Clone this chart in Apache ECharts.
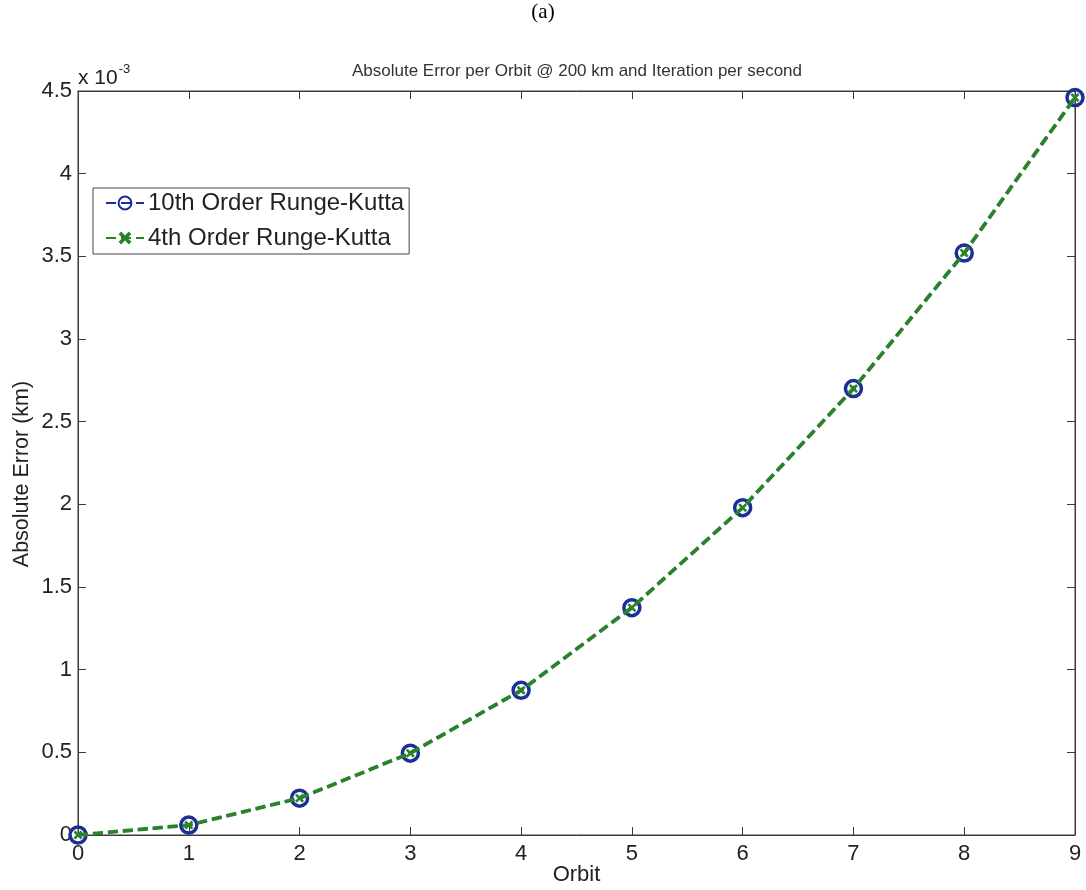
<!DOCTYPE html>
<html>
<head>
<meta charset="utf-8">
<title>Absolute Error per Orbit</title>
<script src="https://cdn.jsdelivr.net/npm/echarts@6/dist/echarts.min.js"></script>
<style>
  html, body { margin: 0; padding: 0; background: #fff; }
  #chart { width: 1086px; height: 890px; }
</style>
</head>
<body>
<div id="chart"></div>
<script>
// Orbit numbers along the x axis
const orbits = [0, 1, 2, 3, 4, 5, 6, 7, 8, 9];
// Absolute error in units of 1e-3 km
const rk10Error = [0, 0.06, 0.223, 0.495, 0.875, 1.375, 1.98, 2.70, 3.52, 4.46];
const rk4Error  = [0, 0.06, 0.223, 0.495, 0.875, 1.375, 1.98, 2.70, 3.52, 4.46];
const yTicks = [0, 0.5, 1, 1.5, 2, 2.5, 3, 3.5, 4, 4.5];

const blue = '#1b2f96';
const green = '#2a822a';
const axisColor = '#3a3a3a';
const textColor = '#222';
const font = 'Arial, "Liberation Sans", sans-serif';

const pairs = (ys) => orbits.map((x, i) => [x, ys[i]]);

// MATLAB-style cross marker as a filled outline
const crossPath = 'path://M0,2L2,0L5,3L8,0L10,2L7,5L10,8L8,10L5,7L2,10L0,8L3,5Z';

const chart = echarts.init(document.getElementById('chart'));

const tick = () => ({
  show: true, inside: true, length: 8,
  lineStyle: { color: axisColor, width: 1 }
});
const line = () => ({ show: true, onZero: false, lineStyle: { color: axisColor, width: 1 } });

chart.setOption({
  animation: false,
  backgroundColor: '#fff',
  title: [
    {
      text: '(a)', left: 'center', top: 2, padding: 0,
      textStyle: { fontFamily: '"Liberation Serif", "Times New Roman", serif', fontSize: 21, fontWeight: 'normal', color: '#000' }
    },
    {
      text: 'Absolute Error per Orbit @ 200 km and Iteration per second',
      left: 577, top: 63, textAlign: 'center', padding: 0,
      textStyle: { fontFamily: font, fontSize: 17, fontWeight: 'normal', color: '#333' }
    },
    {
      text: '{b|x 10}{s|-3}', left: 78, top: 58, padding: 0,
      textStyle: {
        rich: {
          b: { fontFamily: font, fontSize: 21, fontWeight: 'normal', color: textColor, padding: [10, 0, 0, 0] },
          s: { fontFamily: font, fontSize: 13, fontWeight: 'normal', color: textColor, padding: [0, 0, 8, 1] }
        }
      }
    }
  ],
  legend: {
    orient: 'vertical',
    left: 93, top: 188,
    padding: [3, 5, 4, 12],
    itemGap: 11,
    itemWidth: 38, itemHeight: 16,
    borderColor: '#444', borderWidth: 1,
    backgroundColor: '#fff',
    textStyle: { fontFamily: font, fontSize: 24, color: textColor, padding: [0, 0, 0, -1] },
    data: ['10th Order Runge-Kutta', '4th Order Runge-Kutta']
  },
  grid: {
    left: 78, right: 11, top: 91, bottom: 55,
    outerBoundsMode: 'none',
    show: true, borderColor: axisColor, borderWidth: 1
  },
  xAxis: [
    {
      type: 'value', min: 0, max: 9, interval: 1,
      name: 'Orbit', nameLocation: 'middle', nameGap: 29, nameMoveOverlap: false,
      nameTextStyle: { fontFamily: font, fontSize: 22, color: textColor },
      axisLine: line(),
      axisTick: tick(),
      axisLabel: { fontFamily: font, fontSize: 22, color: textColor, margin: 8 },
      splitLine: { show: false }
    },
    {
      type: 'value', position: 'top', min: 0, max: 9, interval: 1,
      axisLine: line(),
      axisTick: tick(),
      axisLabel: { show: false },
      splitLine: { show: false }
    }
  ],
  yAxis: [
    {
      type: 'value', min: 0, max: 4.5, interval: 0.5,
      name: 'Absolute Error (km)', nameLocation: 'middle', nameGap: 45, nameMoveOverlap: false,
      nameTextStyle: { fontFamily: font, fontSize: 21.5, color: textColor, padding: [0, 22, 0, 0] },
      axisLine: line(),
      axisTick: tick(),
      axisLabel: {
        fontFamily: font, fontSize: 22, color: textColor, margin: 6,
        formatter: (v) => {
          const t = yTicks.find((k) => Math.abs(k - v) < 1e-9);
          return t === undefined ? '' : String(t);
        }
      },
      splitLine: { show: false }
    },
    {
      type: 'value', position: 'right', min: 0, max: 4.5, interval: 0.5,
      axisLine: line(),
      axisTick: tick(),
      axisLabel: { show: false },
      splitLine: { show: false }
    }
  ],
  series: [
    {
      name: '10th Order Runge-Kutta',
      type: 'line',
      data: pairs(rk10Error),
      symbol: 'circle', symbolSize: 16,
      lineStyle: { color: blue, width: 2.5, type: [10, 5] },
      itemStyle: { color: 'rgba(255,255,255,0)', borderColor: blue, borderWidth: 3.5 },
      z: 2
    },
    {
      name: '4th Order Runge-Kutta',
      type: 'line',
      data: pairs(rk4Error),
      symbol: crossPath, symbolSize: 9,
      lineStyle: { color: green, width: 3.8, type: [10, 5] },
      itemStyle: { color: green },
      z: 3
    }
  ]
});
</script>
</body>
</html>
